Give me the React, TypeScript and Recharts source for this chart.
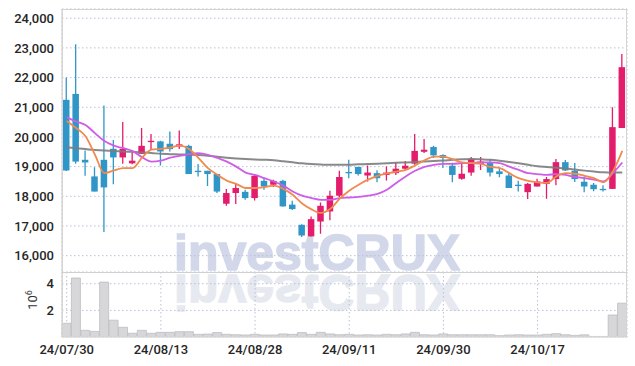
import React from "react";
import { ComposedChart, Bar, Line, XAxis, YAxis, CartesianGrid } from "recharts";

// trading days shown on the chart (yy/mm/dd)
const dates = [
  "24/07/30", "24/07/31", "24/08/01", "24/08/02", "24/08/05", "24/08/06", "24/08/07", "24/08/08", "24/08/09", "24/08/12",
  "24/08/13", "24/08/14", "24/08/16", "24/08/19", "24/08/20", "24/08/21", "24/08/22", "24/08/23", "24/08/26", "24/08/27",
  "24/08/28", "24/08/29", "24/08/30", "24/09/02", "24/09/03", "24/09/04", "24/09/05", "24/09/06", "24/09/09", "24/09/10",
  "24/09/11", "24/09/12", "24/09/13", "24/09/19", "24/09/20", "24/09/23", "24/09/24", "24/09/25", "24/09/26", "24/09/27",
  "24/09/30", "24/10/02", "24/10/04", "24/10/07", "24/10/08", "24/10/10", "24/10/11", "24/10/14", "24/10/15", "24/10/16",
  "24/10/17", "24/10/18", "24/10/21", "24/10/22", "24/10/23", "24/10/24", "24/10/25", "24/10/28", "24/10/29", "24/10/30",
];

const opens = [
  21250, 21450, 19230, 18670, 19230, 19600, 19310, 19110, 19430, 19840,
  19850, 19770, 19680, 19700, 18860, 18860, 18750, 17750, 18110, 18150,
  17940, 18520, 18390, 18520, 17720, 17040, 16650, 17150, 17490, 18020,
  18820, 18990, 18700, 18780, 18720, 18780, 18930, 19100, 19500, 19660,
  19390, 19030, 18590, 18800, 19090, 19120, 18840, 18700, 18390, 18140,
  18330, 18420, 18580, 19150, 18860, 18490, 18390, 18250, 18250, 20300,
];
const highs = [
  22000, 23120, 19540, 18980, 21060, 19900, 20500, 19540, 20300, 20100,
  19870, 20180, 20220, 19740, 19090, 18860, 18750, 18250, 18420, 18220,
  18720, 18610, 18560, 18560, 17850, 17060, 17320, 17790, 18190, 18860,
  19230, 18990, 19040, 18880, 19000, 19150, 19190, 20100, 19930, 19700,
  19420, 19130, 19110, 19320, 19320, 19250, 18950, 18790, 18520, 18450,
  18590, 18650, 19260, 19220, 19120, 18670, 18450, 18370, 21000, 22790,
];
const lows = [
  18850, 19100, 18690, 18160, 16800, 18410, 19100, 19080, 19430, 19570,
  19040, 19510, 19590, 18750, 18670, 18350, 18110, 17680, 17740, 17880,
  17860, 18220, 18310, 17650, 17540, 16630, 16650, 16740, 17190, 17980,
  18610, 18700, 18500, 18470, 18530, 18720, 18880, 19060, 19460, 19290,
  18950, 18470, 18560, 18690, 18890, 18670, 18640, 18280, 18160, 17910,
  18330, 17920, 18370, 18850, 18480, 18140, 18170, 18160, 18250, 20300,
];
const closes = [
  18870, 19170, 19140, 18160, 18300, 19310, 19600, 19200, 19700, 19870,
  19510, 19590, 19750, 18750, 18840, 18750, 18160, 18110, 18280, 17940,
  18690, 18330, 18520, 17660, 17570, 16680, 17230, 17680, 18020, 18650,
  18780, 18750, 18800, 18610, 18800, 18930, 19030, 19530, 19570, 19380,
  19290, 18720, 18760, 19260, 19170, 18800, 18750, 18280, 18360, 18420,
  18500, 18580, 19150, 18870, 18580, 18330, 18240, 18230, 20330, 22350,
];

// moving averages
const ma5 = [
  20540, 20300, 20020, 19400, 18780, 18870, 18950, 18950, 19300, 19570,
  19600, 19640, 19710, 19590, 19290, 18950, 18725, 18530, 18420, 18280,
  18280, 18310, 18360, 18250, 18050, 17760, 17560, 17440, 17580, 17920,
  18190, 18390, 18560, 18690, 18770, 18830, 18890, 19040, 19210, 19340,
  19340, 19250, 19140, 19120, 19090, 18990, 18950, 18780, 18610, 18520,
  18470, 18450, 18670, 18780, 18760, 18690, 18610, 18470, 18840, 19530,
];
const ma10 = [
  20660, 20520, 20400, 20130, 19860, 19710, 19620, 19520, 19320, 19170,
  19200, 19300, 19360, 19420, 19450, 19400, 19290, 19170, 19000, 18800,
  18720, 18610, 18500, 18360, 18160, 18020, 17940, 17880, 17880, 17940,
  17960, 17980, 18020, 18080, 18220, 18450, 18670, 18860, 18990, 19060,
  19090, 19090, 19120, 19120, 19140, 19140, 19120, 19000, 18890, 18780,
  18750, 18720, 18750, 18720, 18650, 18610, 18560, 18500, 18780, 19140,
];
const ma60 = [
  19650, 19620, 19590, 19560, 19540, 19530, 19510, 19500, 19480, 19460,
  19430, 19420, 19410, 19400, 19390, 19365, 19330, 19300, 19275, 19255,
  19240, 19230, 19215, 19180, 19145, 19110, 19085, 19070, 19060, 19060,
  19060, 19080, 19085, 19095, 19110, 19130, 19140, 19155, 19170, 19190,
  19205, 19230, 19245, 19255, 19245, 19230, 19195, 19155, 19110, 19060,
  19010, 18985, 18960, 18935, 18900, 18865, 18835, 18810, 18800, 18800,
];

// volume in millions of shares
const volumes = [
  1.03, 4.43, 0.5, 0.42, 4.12, 1.26, 0.73, 0.28, 0.5, 0.28,
  0.35, 0.35, 0.4, 0.4, 0.2, 0.22, 0.33, 0.2, 0.17, 0.15,
  0.2, 0.15, 0.15, 0.23, 0.2, 0.33, 0.2, 0.35, 0.23, 0.17,
  0.2, 0.15, 0.17, 0.15, 0.2, 0.17, 0.23, 0.35, 0.17, 0.15,
  0.23, 0.17, 0.17, 0.17, 0.17, 0.17, 0.1, 0.15, 0.17, 0.15,
  0.15, 0.2, 0.25, 0.17, 0.12, 0.16, 0.04, 0.04, 1.65, 2.54,
];

const priceTicks = [16000, 17000, 18000, 19000, 20000, 21000, 22000, 23000, 24000];
const volumeTicks = [2e6, 4e6];

const UP = "#e31c6c";
const DOWN = "#3096c8";
const GRID = "#b9c0d8";
const FONT = "Roboto, sans-serif";
const tickStyle = { fill: "#262626", fontSize: 13, fontFamily: FONT, fontWeight: 500 };

const data = dates.map((date, i) => ({
  date,
  range: [lows[i], highs[i]],
  open: opens[i],
  high: highs[i],
  low: lows[i],
  close: closes[i],
  ma5: ma5[i],
  ma10: ma10[i],
  ma60: ma60[i],
  vol: volumes[i] * 1e6,
}));

const Candle = (props: any) => {
  const { x, y, width, height, payload } = props;
  const { open, close, high, low } = payload;
  const top = Math.min(y, y + height);
  const h = Math.abs(height);
  const span = high - low;
  const py = (v: number) => (span === 0 ? top : top + ((high - v) / span) * h);
  const color = close >= open ? UP : DOWN;
  const bTop = py(Math.max(open, close));
  const bBot = py(Math.min(open, close));
  const cx = x + width / 2;
  return (
    <g>
      <line x1={cx} x2={cx} y1={top} y2={top + h} stroke={color} strokeWidth={1.3} />
      <rect x={x} y={bTop} width={width} height={Math.max(bBot - bTop, 1.3)} fill={color} />
    </g>
  );
};

const Watermark = () => (
  <svg width={635} height={366} style={{ position: "absolute", left: 0, top: 0 }}>
    <text
      x={174}
      y={270}
      fontFamily="'Liberation Sans', Arial, sans-serif"
      fontWeight={700}
      fontSize={50}
      fill="#d2d8e9"
      stroke="#d2d8e9"
      strokeWidth={1.5}
    >
      investCRUX
    </text>
    <text
      x={174}
      y={270}
      transform="translate(0,545) scale(1,-1)"
      fontFamily="'Liberation Sans', Arial, sans-serif"
      fontWeight={700}
      fontSize={50}
      fill="#e7e9f1"
      stroke="#e7e9f1"
      strokeWidth={1.5}
    >
      investCRUX
    </text>
    <text transform="translate(36.5,300) rotate(-90)" textAnchor="middle" fontFamily={FONT} fontSize={13} fill="#333">
      10<tspan dy={-5} fontSize={9}>6</tspan>
    </text>
  </svg>
);

export default function App() {
  return (
    <div style={{ position: "absolute", left: 0, top: 0, width: 635, height: 366, background: "#fff" }}>
      <Watermark />
      <div style={{ position: "absolute", left: 0, top: 0 }}>
        <ComposedChart width={635} height={272} data={data} margin={{ top: 9, right: 8, bottom: 0, left: 0 }}>
          <CartesianGrid stroke={GRID} strokeDasharray="1.5 2.5" />
          <XAxis dataKey="date" interval={9} tick={false} tickLine={false} axisLine={false} height={0} />
          <YAxis
            domain={[15450, 24310]}
            ticks={priceTicks}
            allowDataOverflow
            width={62}
            tickLine={false}
            axisLine={{ stroke: "#d2d2d2" }}
            tick={tickStyle}
            tickFormatter={(v: number) => v.toLocaleString("en-US")}
          />
          <Bar dataKey="range" barSize={6.5} shape={<Candle />} isAnimationActive={false} />
          <Line dataKey="ma60" type="monotone" stroke="#7c7c7c" strokeOpacity={0.9} strokeWidth={2} dot={false} activeDot={false} isAnimationActive={false} />
          <Line dataKey="ma10" type="monotone" stroke="#cf5ce8" strokeWidth={1.8} dot={false} activeDot={false} isAnimationActive={false} />
          <Line dataKey="ma5" type="monotone" stroke="#f08a4e" strokeWidth={1.8} dot={false} activeDot={false} isAnimationActive={false} />
        </ComposedChart>
      </div>
      <div style={{ position: "absolute", left: 0, top: 272 }}>
        <ComposedChart width={635} height={94} data={data} barCategoryGap={0} margin={{ top: 0, right: 8, bottom: 0, left: 0 }}>
          <CartesianGrid stroke={GRID} strokeDasharray="1.5 2.5" />
          <XAxis
            dataKey="date"
            interval={9}
            height={29}
            tickLine={false}
            axisLine={{ stroke: "#d2d2d2" }}
            tick={tickStyle}
          />
          <YAxis
            domain={[0, 4.88e6]}
            ticks={volumeTicks}
            allowDataOverflow
            width={62}
            tickLine={false}
            axisLine={{ stroke: "#d2d2d2" }}
            tick={tickStyle}
            tickFormatter={(v: number) => String(v / 1e6)}
          />
          <Bar dataKey="vol" fill="#d7d7da" stroke="#bdbdc3" strokeWidth={0.8} isAnimationActive={false} />
        </ComposedChart>
      </div>
      <div
        style={{
          position: "absolute",
          left: 62,
          top: 9,
          width: 565,
          height: 328,
          border: "1px solid #d4d4d4",
          boxSizing: "border-box",
          pointerEvents: "none",
        }}
      />
      <div style={{ position: "absolute", left: 62, top: 272, width: 565, height: 1, background: "#d0d0d0" }} />
    </div>
  );
}
